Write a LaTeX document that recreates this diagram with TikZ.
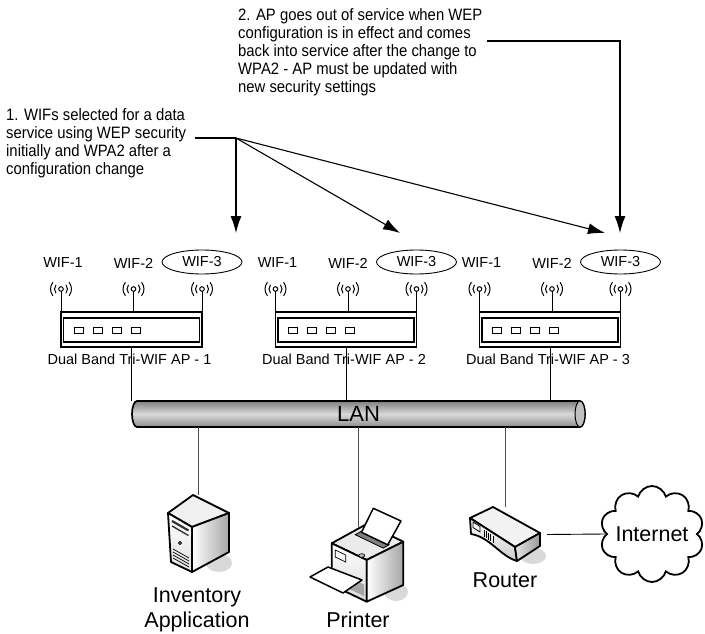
\documentclass[tikz,border=0pt]{standalone}
\usepackage{fontspec}
\setmainfont{Liberation Sans}
\newfontfamily\narrowsans[FakeStretch=0.9]{Liberation Sans}
\usepackage{tikz}
\usetikzlibrary{
  % ellipse around the selected WIF
  shapes.geometric,%
  % cloud for the internet
  shapes.symbols,%
  arrows.meta,%
  calc,%
  positioning
}
\tikzset{>={Latex[length=17pt,width=11pt]}}
\tikzset{
  wif/.style={font=\fontsize{14.5}{17}\selectfont, inner sep=0pt},
  wifsel/.style={wif, ellipse, draw, line width=0.9pt,
    minimum width=80pt, minimum height=24pt},
  apcase/.style={draw, line width=1.1pt, minimum width=141pt,
    minimum height=35pt, inner sep=0pt},
  note/.style={font=\fontsize{16.5}{18}\narrowsans, align=left, inner sep=0pt},
  bigtext/.style={font=\fontsize{21.5}{25}\selectfont, align=center, inner sep=0pt},
  callout/.style={line width=1.1pt},
  lanlink/.style={draw=black!70, line width=0.8pt},
  icon/.style={draw=black, line width=1.8pt, line join=round},
}

\begin{document}
\begin{tikzpicture}[x=1pt,y=-1pt]
  \useasboundingbox (0,0) rectangle (705,634);

  % notes and their arrows
  \node[note, anchor=north west] (note1) at (6,108)
    {1. WIFs selected for a data\\service using WEP security\\initially and WPA2 after a\\configuration change};
  \node[note, anchor=north west] (note2) at (238,8)
    {2. AP goes out of service when WEP\\configuration is in effect and comes\\back into service after the change to\\WPA2 - AP must be updated with\\new security settings};
  \coordinate (n1out) at (195,138);
  \coordinate (hub) at (236,138);
  \coordinate (to1) at (236,233);
  \coordinate (to2) at (400,233);
  \coordinate (to3) at (605,233);
  \coordinate (n2out) at (487,41);
  \coordinate (bend) at (620,41);
  \coordinate (to4) at (620,233);
  \draw[callout] (n1out) -- (hub);
  \draw[callout,->] (hub) -- (to1);
  \draw[callout,->] (hub) -- (to2);
  \draw[callout,->] (hub) -- (to3);
  \draw[callout,->] (n2out) -- (bend) -- (to4);

  % LAN pipe
  \shadedraw[line width=1.7pt, top color=black!50, bottom color=black!45, middle color=black!15]
    (137,401) -- (580,401) arc (-90:90:5 and 13) -- (137,427) arc (90:270:5 and 13) -- cycle;
  \filldraw[line width=1pt, fill=black!25] (580,414) ellipse (5 and 13);
  \node[font=\fontsize{22}{26}\selectfont, minimum width=453pt, minimum height=26pt,
    inner sep=0pt] (lan) at (358.5,414) {LAN};

  % access points
  \foreach \i/\cx in {1/131.5, 2/346, 3/550} {
    \node[apcase] (ap\i) at (\cx,329.5) {};
    \draw[line width=1.1pt] (\cx-68,318) rectangle (\cx+68,342);
    \foreach \dx in {-57.5,-38.5,-19.5,-0.5}
      \draw[line width=0.9pt] (\cx+\dx,327) rectangle ++(9,6);
    \foreach \j/\dx in {a/-70.5, b/2, c/70.5} {
      \coordinate (ant\i\j) at (\cx+\dx,289);
      \draw[line width=1pt] (ant\i\j) ++(0,2.3) -- (ant\i\j |- ap\i.north);
      \draw[line width=1pt] (ant\i\j) circle (2.3);
      \draw[line width=1pt] (ant\i\j) ++(140:6.5) arc (140:220:6.5);
      \draw[line width=1pt] (ant\i\j) ++(140:10.5) arc (140:220:10.5);
      \draw[line width=1pt] (ant\i\j) ++(-40:6.5) arc (-40:40:6.5);
      \draw[line width=1pt] (ant\i\j) ++(-40:10.5) arc (-40:40:10.5);
    }
    \node[wif] (wifa\i) at (\cx-68.5,263) {WIF-1};
    \node[wif] (wifb\i) at (\cx+2,263) {WIF-2};
    \node[wifsel] (wifc\i) at (\cx+70.5,262) {WIF-3};
    \draw[line width=0.9pt] (ap\i.south) -- (ap\i.south |- lan.north);
    \node[wif] (aplbl\i) at (\cx-2,359) {Dual Band Tri-WIF AP - \i};
  }

  % hosts on the LAN
  \node[inner sep=0pt, minimum width=60pt, minimum height=80pt] (server) at (198,535) {};
  \coordinate (printer) at (358,527);
  \node[inner sep=0pt, minimum width=84pt, minimum height=55pt] (router) at (505,534.5) {};
  \draw[lanlink] (lan.south -| server.north) -- (server.north);
  \draw[lanlink] (lan.south -| printer) -- (printer);
  \draw[lanlink] (lan.south -| router.north) -- (router.north);

  % server tower
  \fill[black!15] (219,563) ellipse (13 and 9);
  \filldraw[icon, fill=black!6] (168,513) -- (193,495) -- (229,513) -- (192,527) -- cycle;
  \shadedraw[icon, top color=white, bottom color=black!12]
    (168,513) -- (192,527) -- (192,572) -- (171,562) -- cycle;
  \shadedraw[icon, left color=white, right color=black!35]
    (192,527) -- (229,513) -- (229,552) -- (192,572) -- cycle;
  \draw[line width=2.2pt, black!80] (172,521) -- (188.5,530.5);
  \draw[line width=1.4pt, black!80] (172,526) -- (188.5,535.5);
  \draw[line width=0.8pt] (180,543) circle (1.5);
  \foreach \v in {0,1,2,3}
    \draw[line width=0.7pt] (173,549+3*\v) -- (189,558+3*\v);

  % printer
  \fill[black!15] (396,592) ellipse (12 and 9);
  \filldraw[icon, fill=black!8] (331.7,543.3) -- (366.7,524) -- (403.3,541.7) -- (366.7,560) -- cycle;
  \shadedraw[icon, top color=white, bottom color=black!15]
    (331.7,543.3) -- (366.7,560) -- (366.7,601.7) -- (331.7,585) -- cycle;
  \shadedraw[icon, left color=white, right color=black!35]
    (366.7,560) -- (403.3,541.7) -- (403.3,585) -- (366.7,601.7) -- cycle;
  \filldraw[fill=black!50, line width=0.8pt] (355.2,534.7) -- (383.2,548.1) -- (389.1,544.8) -- (361.1,531.4) -- cycle;
  \filldraw[fill=white, line width=1.5pt, line join=round]
    (361.5,532.3) -- (373.3,508.3) -- (401,521) -- (387.7,544.8) -- cycle;
  \filldraw[fill=black!25, line width=0.7pt] (361.7,555.5) ellipse (3 and 1.8);
  \draw[line width=0.7pt] (335.2,550) -- (345.7,555) -- (345.7,562) -- (335.2,557) -- cycle;
  \fill[black!35] (340,573) -- (364,584.5) -- (364,596) -- (340,584.5) -- cycle;
  \filldraw[fill=white, line width=1.5pt, line join=round]
    (310,577) -- (328,567) -- (362,580) -- (343,593) -- cycle;

  % router
  \fill[black!15] (533,556) ellipse (13 and 8);
  \filldraw[icon, fill=black!5] (470,518) -- (493,507) -- (540,533) -- (515,547) -- cycle;
  \shadedraw[icon, top color=white, bottom color=black!20]
    (470,518) -- (515,547) -- (517,561) .. controls (500,556) and (490,537) .. (471,534) -- cycle;
  \shadedraw[icon, left color=black!10, right color=black!40]
    (515,547) -- (540,533) -- (540,546) -- (517,561) -- cycle;
  \draw[line width=0.8pt] (473,522) -- (480,526.5) -- (480,532) -- (473,527.5) -- cycle;
  \foreach \k in {0,...,4}
    \draw[line width=0.6pt] (484+2.2*\k,530+1.4*\k) -- ++(0,7);

  % internet
  \node[cloud, draw, line width=1.8pt, fill=white, cloud puffs=10, cloud ignores aspect,
    minimum width=104pt, minimum height=96pt, inner sep=0pt] (inet) at (652,534) {};
  \node[bigtext] (inetlbl) at (inet.center) {Internet};
  \draw[line width=0.9pt] (router.east) -- (inet.west);

  % host labels
  \node[bigtext] (servlbl) at (197,610) {Inventory\\Application};
  \node[bigtext] (prnlbl) at (358,620) {Printer};
  \node[bigtext] (rtlbl) at (505,580) {Router};
\end{tikzpicture}
\end{document}
